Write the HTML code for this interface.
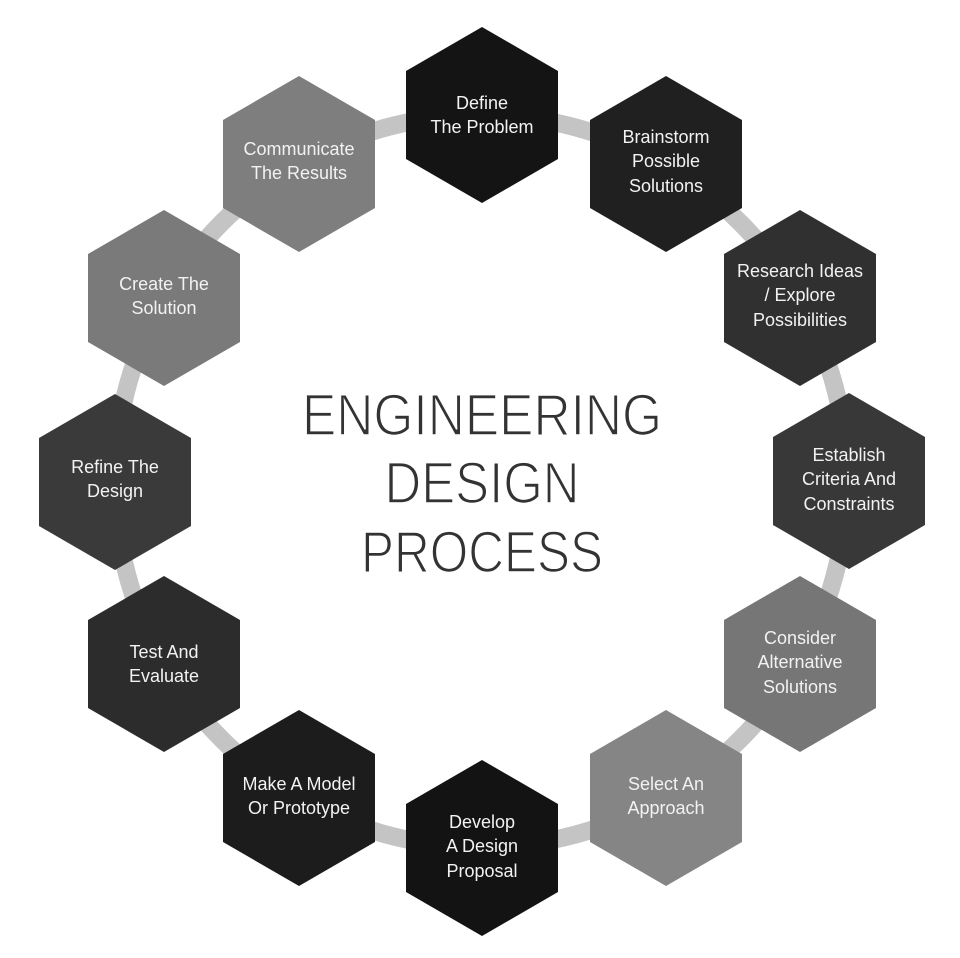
<!DOCTYPE html>
<html><head><meta charset="utf-8"><style>
html,body{margin:0;padding:0;background:#fff;}
svg{display:block;}
</style></head><body>
<svg width="960" height="958" viewBox="0 0 960 958" xmlns="http://www.w3.org/2000/svg">
<circle cx="481" cy="481" r="366" fill="none" stroke="#c4c4c4" stroke-width="18"/>
<defs>
<polygon id="hx" points="0,-88 76,-44 76,44 0,88 -76,44 -76,-44"/>
</defs>
<g font-family="'Liberation Sans', sans-serif" font-size="18" fill="#f2f2f2" text-anchor="middle">
<use href="#hx" x="482" y="115" fill="#141414"/>
<text x="482" y="109">Define</text><text x="482" y="133">The Problem</text>
<use href="#hx" x="666" y="164" fill="#202020"/>
<text x="666" y="143">Brainstorm</text><text x="666" y="167">Possible</text><text x="666" y="192">Solutions</text>
<use href="#hx" x="800" y="298" fill="#303030"/>
<text x="800" y="277">Research Ideas</text><text x="800" y="301">/ Explore</text><text x="800" y="326">Possibilities</text>
<use href="#hx" x="849" y="481" fill="#383838"/>
<text x="849" y="461">Establish</text><text x="849" y="485">Criteria And</text><text x="849" y="510">Constraints</text>
<use href="#hx" x="800" y="664" fill="#767676"/>
<text x="800" y="644">Consider</text><text x="800" y="668">Alternative</text><text x="800" y="693">Solutions</text>
<use href="#hx" x="666" y="798" fill="#858585"/>
<text x="666" y="790">Select An</text><text x="666" y="814">Approach</text>
<use href="#hx" x="482" y="848" fill="#131313"/>
<text x="482" y="828">Develop</text><text x="482" y="852">A Design</text><text x="482" y="877">Proposal</text>
<use href="#hx" x="299" y="798" fill="#1c1c1c"/>
<text x="299" y="790">Make A Model</text><text x="299" y="814">Or Prototype</text>
<use href="#hx" x="164" y="664" fill="#2c2c2c"/>
<text x="164" y="658">Test And</text><text x="164" y="682">Evaluate</text>
<use href="#hx" x="115" y="482" fill="#3a3a3a"/>
<text x="115" y="473">Refine The</text><text x="115" y="497">Design</text>
<use href="#hx" x="164" y="298" fill="#7a7a7a"/>
<text x="164" y="290">Create The</text><text x="164" y="314">Solution</text>
<use href="#hx" x="299" y="164" fill="#7e7e7e"/>
<text x="299" y="155">Communicate</text><text x="299" y="179">The Results</text>
</g>
<g font-family="'Liberation Sans', sans-serif" font-size="58" fill="#333" stroke="#fff" stroke-width="1.6" text-anchor="middle" font-weight="normal">
<text x="482" y="435" textLength="360" lengthAdjust="spacingAndGlyphs">ENGINEERING</text>
<text x="482" y="503" textLength="195" lengthAdjust="spacingAndGlyphs">DESIGN</text>
<text x="482" y="572" textLength="242" lengthAdjust="spacingAndGlyphs">PROCESS</text>
</g>
</svg>
</body></html>
